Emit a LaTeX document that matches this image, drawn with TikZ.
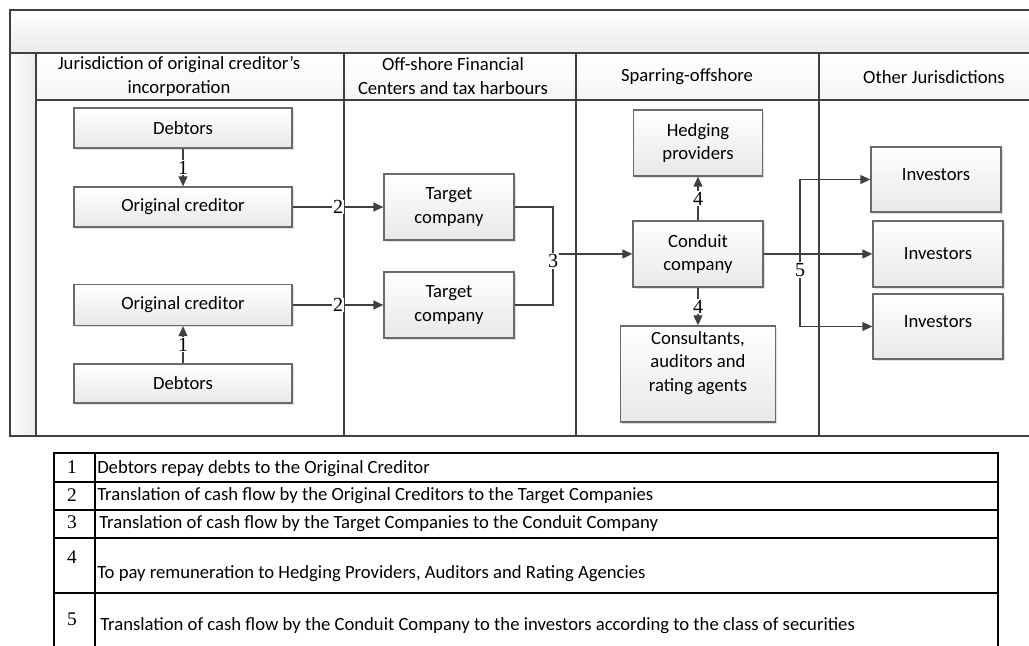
\documentclass[tikz,border=0pt]{standalone}
\usepackage{fontspec}
\setmainfont{Carlito}
\newfontfamily\numfont{Liberation Serif}
\usetikzlibrary{arrows.meta,shadows}
\definecolor{linegray}{HTML}{404040}
\definecolor{boxgray}{HTML}{6A6A6A}
\tikzset{
    box/.style={draw=boxgray, line width=0.8pt, top color=white, bottom color=gray!18,
        drop shadow={shadow xshift=1.2pt, shadow yshift=-1.2pt, opacity=0.25, fill=gray},
        align=center, inner sep=0pt, font=\fontsize{14}{17.5}\selectfont},
    sz/.style 2 args={minimum width=#1*0.75pt, minimum height=#2*0.75pt},
    flow/.style={draw=linegray, line width=1.3pt, -{Triangle[length=7.5pt,width=6.5pt]}},
    joinline/.style={draw=linegray, line width=1.3pt},
    numlbl/.style={fill=white, inner sep=0.5pt, font=\numfont\fontsize{15}{15}\selectfont},
    lane/.style={draw=linegray, line width=0.9pt},
    lanehead/.style={align=center, font=\fontsize{14}{18}\selectfont},
    tabline/.style={draw=black, line width=0.8pt},
    rowtext/.style={anchor=west, inner sep=0pt, font=\fontsize{14}{17}\selectfont},
    rownum/.style={inner sep=0pt, font=\numfont\fontsize{14.5}{15}\selectfont}
}
\begin{document}
\begin{tikzpicture}[x=0.75pt, y=-0.75pt]
    \def\pl{10}
    \def\pr{1029}
    \def\pb{436}
    \def\tl{54}
    \def\tr{998}
    \def\tc{95}
    \useasboundingbox (0,0) rectangle (1029,646);

    % pool
    \shade[top color=white, bottom color=gray!16] (\pl,10) rectangle (\pr,53);
    \shade[left color=white, right color=gray!16] (\pl,53) rectangle (36,\pb);
    \shade[top color=white, bottom color=gray!8] (36,53) rectangle (\pr,100);
    \draw[lane] (\pr,10) -- (\pl,10) -- (\pl,\pb) -- (\pr,\pb);
    \draw[lane] (\pl,53) -- (\pr,53);
    \draw[lane] (36,53) -- (36,\pb);
    \draw[lane] (36,100) -- (\pr,100);
    \foreach \lx in {344,576,819}
        \draw[lane] (\lx,53) -- (\lx,\pb);

    \node[lanehead] (jur) at (179,76) {Jurisdiction of original creditor’s\\incorporation};
    \node[lanehead] (off) at (453,76) {Off-shore Financial\\Centers and tax harbours};
    \node[lanehead] (spar) at (687,77) {Sparring-offshore};
    \node[lanehead] (other) at (934,77) {Other Jurisdictions};

    % boxes
    \node[box, sz={218}{40}] (debtup) at (183,128) {Debtors};
    \node[box, sz={218}{40}] (credup) at (183,207) {Original creditor};
    \node[box, sz={218}{41}] (creddn) at (183,305) {Original creditor};
    \node[box, sz={218}{39}] (debtdn) at (183,383.5) {Debtors};
    \node[box, sz={130}{66}] (tgtup) at (449,207) {Target\\company};
    \node[box, sz={130}{66}] (tgtdn) at (449,305) {Target\\company};
    \node[box, sz={130}{66}] (cond) at (698,254) {Conduit\\company};
    \node[box, sz={129}{66}] (hedge) at (698,143) {Hedging\\providers};
    \node[box, sz={155}{96}, text depth=19pt] (cons) at (698,374) {Consultants,\\auditors and\\rating agents};
    \node[box, sz={130}{65}, text depth=8pt] (invup) at (936,179.5) {Investors};
    \node[box, sz={130}{66}] (invmid) at (938,254) {Investors};
    \node[box, sz={130}{65}, text depth=8pt] (invdn) at (938,326.5) {Investors};

    % flows
    \draw[flow] (debtup) -- node[numlbl] {1} (credup);
    \draw[flow] (debtdn) -- node[numlbl] {1} (creddn);
    \draw[flow] (credup) -- node[numlbl] {2} (tgtup);
    \draw[flow] (creddn) -- node[numlbl] {2} (tgtdn);
    \node[numlbl] (three) at (553,261) {3};
    \draw[joinline] (tgtup.east) -| (three.north);
    \draw[joinline] (tgtdn.east) -| (three.south);
    \draw[flow] (three.east |- cond.west) -- (cond.west);
    \draw[flow] (cond) -- node[numlbl] {4} (hedge);
    \draw[flow] (cond) -- node[numlbl] {4} (cons);
    \draw[flow] (cond) -- (invmid);
    \node[numlbl] (five) at (800,270) {5};
    \draw[flow] (five.north) |- (invup.west);
    \draw[flow] (five.south) |- (invdn.west);

    % legend table
    \draw[tabline] (\tl,646) -- (\tl,453) -- (\tr,453) -- (\tr,646);
    \draw[tabline] (\tc,453) -- (\tc,646);
    \foreach \ry in {482,510,538,593}
        \draw[tabline] (\tl,\ry) -- (\tr,\ry);
    \node[rownum] (nr1) at (72,467) {1};
    \node[rownum] (nr2) at (72,495) {2};
    \node[rownum] (nr3) at (72,522) {3};
    \node[rownum] (nr4) at (72,557) {4};
    \node[rownum] (nr5) at (72,619) {5};
    \node[rowtext] (tx1) at (97,469) {Debtors repay debts to the Original Creditor};
    \node[rowtext] (tx2) at (97,496) {Translation of cash flow by the Original Creditors to the Target Companies};
    \node[rowtext] (tx3) at (99,524) {Translation of cash flow by the Target Companies to the Conduit Company};
    \node[rowtext] (tx4) at (97,574) {To pay remuneration to Hedging Providers, Auditors and Rating Agencies};
    \node[rowtext] (tx5) at (100,626) {Translation of cash flow by the Conduit Company to the investors according to the class of securities};
\end{tikzpicture}
\end{document}
